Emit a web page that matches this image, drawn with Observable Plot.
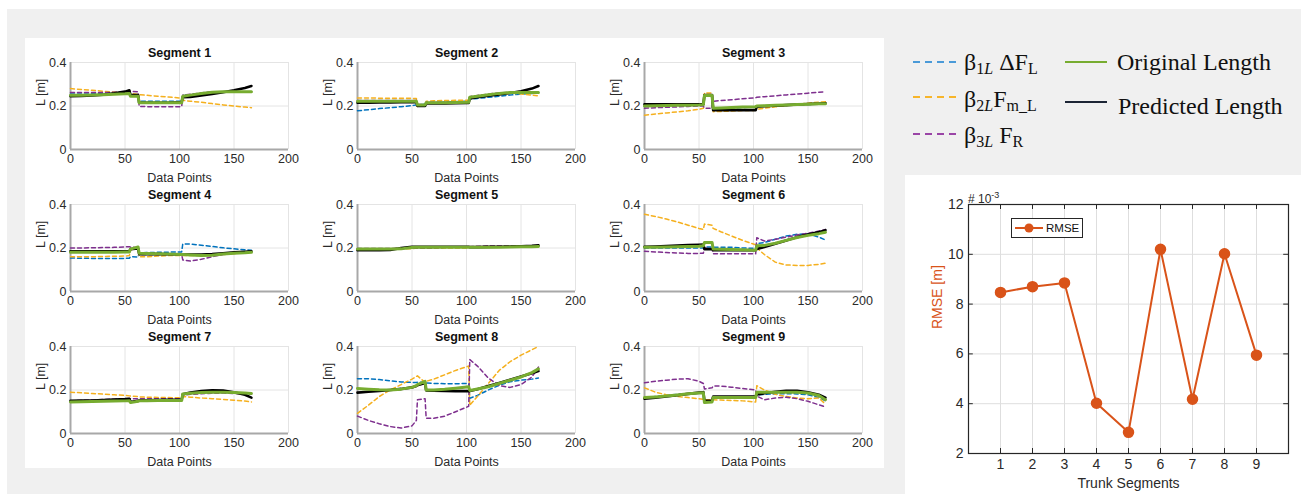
<!DOCTYPE html>
<html><head><meta charset="utf-8">
<script src="https://cdn.jsdelivr.net/npm/d3@7"></script>
<script src="https://cdn.jsdelivr.net/npm/@observablehq/plot@0.6"></script>
<style>
html,body{margin:0;padding:0;background:#fff;}
#root{position:relative;width:1301px;height:494px;overflow:hidden;font-family:"Liberation Sans",Arial,sans-serif;}
.abs{position:absolute;}
.leg{position:absolute;font-family:"Liberation Serif","Times New Roman",serif;font-size:24px;color:#111;white-space:nowrap;height:30px;line-height:30px;}
.leg sub{font-size:16px;vertical-align:-4px;line-height:0;}
.leg i{font-style:italic;}
svg{overflow:visible;}
</style></head><body><div id="root"></div>
<script>
// ---------- data ----------
const xPoints = [0,10,20,30,40,50,54,55,62,63,70,80,90,102,103,110,120,130,140,150,160,166];
const segmentTitles = ["Segment 1","Segment 2","Segment 3","Segment 4","Segment 5","Segment 6","Segment 7","Segment 8","Segment 9"];
const xTicks = [0,50,100,150,200];
const yTicks = [0,0.2,0.4];

const original = [
 [0.25,0.25,0.251,0.252,0.254,0.256,0.258,0.245,0.245,0.215,0.215,0.215,0.215,0.215,0.245,0.25,0.257,0.263,0.265,0.265,0.265,0.265],
 [0.222,0.222,0.222,0.222,0.222,0.222,0.222,0.205,0.205,0.215,0.215,0.215,0.216,0.217,0.24,0.245,0.252,0.258,0.262,0.262,0.262,0.262],
 [0.2,0.201,0.202,0.203,0.204,0.205,0.206,0.248,0.248,0.19,0.191,0.193,0.195,0.197,0.2,0.201,0.203,0.205,0.207,0.208,0.21,0.21],
 [0.181,0.181,0.181,0.181,0.181,0.182,0.182,0.195,0.205,0.176,0.175,0.174,0.172,0.17,0.17,0.168,0.165,0.167,0.172,0.176,0.178,0.18],
 [0.195,0.195,0.195,0.195,0.196,0.202,0.203,0.203,0.203,0.203,0.204,0.204,0.204,0.204,0.203,0.203,0.204,0.204,0.205,0.206,0.206,0.207],
 [0.203,0.204,0.205,0.206,0.207,0.208,0.21,0.225,0.225,0.195,0.194,0.193,0.192,0.19,0.21,0.212,0.222,0.235,0.248,0.258,0.266,0.272],
 [0.145,0.146,0.147,0.148,0.149,0.15,0.151,0.142,0.148,0.15,0.151,0.152,0.152,0.152,0.182,0.185,0.188,0.19,0.19,0.188,0.186,0.184],
 [0.207,0.204,0.201,0.2,0.204,0.212,0.22,0.225,0.24,0.2,0.2,0.203,0.208,0.215,0.198,0.205,0.215,0.23,0.245,0.26,0.28,0.297],
 [0.165,0.168,0.172,0.177,0.183,0.186,0.187,0.142,0.145,0.165,0.166,0.166,0.166,0.166,0.19,0.19,0.19,0.19,0.19,0.186,0.175,0.155]
];
const predicted = [
 [0.245,0.246,0.248,0.252,0.258,0.266,0.272,0.25,0.25,0.215,0.215,0.215,0.215,0.218,0.24,0.242,0.248,0.255,0.263,0.272,0.283,0.292],
 [0.215,0.215,0.216,0.216,0.217,0.218,0.218,0.2,0.2,0.212,0.212,0.212,0.213,0.214,0.235,0.24,0.247,0.253,0.26,0.268,0.28,0.292],
 [0.208,0.208,0.208,0.208,0.208,0.208,0.208,0.25,0.25,0.181,0.181,0.181,0.181,0.181,0.197,0.199,0.201,0.204,0.207,0.209,0.211,0.213],
 [0.185,0.185,0.185,0.185,0.185,0.185,0.185,0.195,0.198,0.172,0.172,0.172,0.171,0.17,0.17,0.17,0.17,0.172,0.176,0.18,0.183,0.185],
 [0.19,0.19,0.19,0.191,0.2,0.205,0.205,0.205,0.205,0.205,0.205,0.206,0.206,0.206,0.204,0.204,0.205,0.206,0.207,0.208,0.21,0.212],
 [0.205,0.207,0.209,0.211,0.213,0.215,0.216,0.195,0.195,0.19,0.19,0.19,0.19,0.19,0.195,0.205,0.22,0.235,0.25,0.262,0.273,0.282],
 [0.15,0.151,0.152,0.154,0.156,0.158,0.16,0.145,0.15,0.152,0.153,0.154,0.155,0.155,0.18,0.188,0.195,0.199,0.197,0.19,0.178,0.165],
 [0.188,0.192,0.196,0.2,0.205,0.212,0.218,0.222,0.232,0.198,0.197,0.196,0.195,0.195,0.195,0.203,0.218,0.232,0.247,0.262,0.277,0.287],
 [0.16,0.165,0.17,0.176,0.182,0.188,0.19,0.15,0.152,0.17,0.17,0.17,0.17,0.17,0.18,0.185,0.192,0.196,0.196,0.19,0.178,0.165]
];
const beta1 = [
 [0.255,0.255,0.256,0.256,0.257,0.258,0.258,0.25,0.25,0.222,0.222,0.222,0.222,0.222,0.25,0.252,0.258,0.262,0.264,0.265,0.265,0.265],
 [0.178,0.183,0.188,0.192,0.197,0.202,0.205,0.205,0.208,0.215,0.216,0.218,0.22,0.222,0.232,0.235,0.24,0.245,0.25,0.255,0.258,0.26],
 [0.198,0.199,0.2,0.201,0.202,0.203,0.204,0.245,0.245,0.188,0.189,0.191,0.193,0.195,0.198,0.199,0.201,0.203,0.205,0.207,0.208,0.209],
 [0.154,0.153,0.152,0.152,0.152,0.152,0.153,0.16,0.158,0.178,0.179,0.18,0.181,0.182,0.219,0.218,0.213,0.207,0.201,0.196,0.192,0.19],
 [0.196,0.196,0.196,0.196,0.197,0.2,0.201,0.201,0.201,0.201,0.202,0.202,0.202,0.202,0.203,0.204,0.205,0.205,0.206,0.207,0.207,0.208],
 [0.2,0.2,0.2,0.2,0.2,0.2,0.2,0.205,0.205,0.204,0.204,0.204,0.2,0.198,0.22,0.225,0.24,0.255,0.263,0.265,0.25,0.237],
 [0.147,0.148,0.149,0.15,0.151,0.152,0.153,0.145,0.149,0.151,0.152,0.153,0.153,0.153,0.18,0.184,0.187,0.189,0.189,0.187,0.185,0.183],
 [0.252,0.252,0.248,0.242,0.237,0.235,0.235,0.236,0.235,0.232,0.23,0.229,0.229,0.23,0.162,0.175,0.2,0.222,0.238,0.245,0.25,0.255],
 [0.165,0.17,0.175,0.18,0.183,0.185,0.186,0.15,0.15,0.168,0.168,0.168,0.168,0.168,0.178,0.18,0.182,0.183,0.182,0.178,0.165,0.15]
];
const beta2 = [
 [0.28,0.276,0.272,0.268,0.264,0.26,0.258,0.257,0.254,0.252,0.249,0.245,0.241,0.236,0.226,0.222,0.217,0.211,0.205,0.2,0.195,0.192],
 [0.237,0.237,0.236,0.236,0.236,0.235,0.235,0.198,0.2,0.222,0.224,0.225,0.226,0.227,0.24,0.245,0.252,0.258,0.26,0.255,0.25,0.247],
 [0.158,0.163,0.168,0.173,0.178,0.185,0.19,0.26,0.26,0.174,0.175,0.177,0.179,0.18,0.185,0.19,0.196,0.202,0.208,0.213,0.218,0.22],
 [0.16,0.16,0.16,0.161,0.162,0.163,0.165,0.19,0.205,0.16,0.16,0.163,0.165,0.166,0.165,0.165,0.165,0.167,0.17,0.174,0.178,0.18],
 [0.196,0.196,0.196,0.196,0.196,0.197,0.2,0.2,0.2,0.2,0.2,0.2,0.2,0.2,0.204,0.205,0.205,0.206,0.206,0.207,0.208,0.208],
 [0.355,0.345,0.333,0.32,0.305,0.29,0.285,0.31,0.305,0.29,0.275,0.255,0.235,0.215,0.2,0.17,0.135,0.122,0.12,0.12,0.125,0.13],
 [0.19,0.187,0.184,0.181,0.178,0.175,0.173,0.172,0.17,0.168,0.167,0.166,0.165,0.164,0.17,0.167,0.163,0.16,0.157,0.153,0.149,0.145],
 [0.093,0.13,0.17,0.2,0.225,0.25,0.262,0.265,0.235,0.24,0.25,0.27,0.29,0.31,0.13,0.17,0.23,0.29,0.33,0.36,0.385,0.4],
 [0.21,0.19,0.178,0.17,0.165,0.16,0.157,0.155,0.155,0.155,0.154,0.152,0.15,0.145,0.22,0.2,0.18,0.17,0.163,0.16,0.163,0.135]
];
const beta3 = [
 [0.262,0.262,0.262,0.262,0.263,0.264,0.265,0.268,0.265,0.198,0.197,0.197,0.197,0.197,0.25,0.254,0.26,0.266,0.266,0.265,0.265,0.265],
 [0.225,0.225,0.225,0.225,0.225,0.225,0.225,0.207,0.207,0.217,0.217,0.217,0.218,0.219,0.243,0.248,0.255,0.26,0.263,0.263,0.263,0.263],
 [0.19,0.192,0.194,0.196,0.198,0.2,0.2,0.19,0.19,0.222,0.225,0.229,0.233,0.238,0.24,0.243,0.247,0.251,0.255,0.259,0.263,0.266],
 [0.2,0.2,0.201,0.202,0.203,0.205,0.206,0.205,0.2,0.17,0.17,0.17,0.17,0.17,0.145,0.14,0.148,0.16,0.17,0.176,0.18,0.182],
 [0.198,0.198,0.198,0.198,0.199,0.2,0.201,0.201,0.201,0.201,0.202,0.203,0.203,0.204,0.206,0.208,0.21,0.21,0.21,0.21,0.21,0.21],
 [0.185,0.182,0.179,0.177,0.175,0.175,0.176,0.2,0.195,0.174,0.173,0.173,0.173,0.173,0.247,0.232,0.24,0.25,0.26,0.268,0.278,0.285],
 [0.15,0.152,0.154,0.156,0.158,0.16,0.161,0.16,0.16,0.16,0.16,0.16,0.16,0.16,0.176,0.18,0.183,0.185,0.186,0.184,0.182,0.18],
 [0.08,0.06,0.045,0.032,0.025,0.035,0.06,0.155,0.16,0.07,0.07,0.08,0.1,0.125,0.34,0.31,0.255,0.22,0.212,0.225,0.26,0.305],
 [0.233,0.24,0.245,0.25,0.252,0.24,0.23,0.205,0.21,0.218,0.218,0.213,0.207,0.2,0.172,0.155,0.163,0.167,0.16,0.148,0.132,0.122]
];

const trunkSegments = [1,2,3,4,5,6,7,8,9];
const rmse = [8.47,8.7,8.85,4.02,2.85,10.2,4.18,10.02,5.95]; // x 10^-3
const rmseYTicks = [2,4,6,8,10,12];

// ---------- styling ----------
const C = {blue:"#0072BD", orange:"#F5B01E", purple:"#7E2F8E", green:"#77AC30", black:"#000000", rmse:"#D95319"};
const FONT = "'Liberation Sans', Arial, sans-serif";
const root = document.getElementById("root");

function box(left, top, w, h, bg) {
  const d = document.createElement("div");
  d.className = "abs";
  Object.assign(d.style, {left:left+"px", top:top+"px", width:w+"px", height:h+"px", background:bg});
  root.appendChild(d);
  return d;
}
box(7, 9, 1294, 485, "#f0f0f0");
box(25, 38, 859, 430, "#ffffff");
box(905, 175, 396, 319, "#ffffff");

function place(el, left, top) {
  const w = document.createElement("div");
  w.className = "abs";
  w.style.left = left + "px"; w.style.top = top + "px";
  w.appendChild(el);
  root.appendChild(w);
}

function subplot(s) {
  const rows = xPoints.map((x, i) => ({x, orig: original[s][i], pred: predicted[s][i], b1: beta1[s][i], b2: beta2[s][i], b3: beta3[s][i]}));
  const dash = {strokeWidth: 1.5, strokeDasharray: "4,3"};
  return Plot.plot({
    width: 290, height: 160,
    marginLeft: 45, marginRight: 27, marginTop: 24, marginBottom: 49,
    x: {domain: [0, 200]},
    y: {domain: [0, 0.4]},
    style: {background: "transparent", overflow: "visible", fontFamily: FONT, fontSize: "12.5px", color: "#2a2a2a"},
    marks: [
      Plot.ruleX(xTicks, {stroke: "#e4e4e4", strokeWidth: 1}),
      Plot.ruleY(yTicks, {stroke: "#e4e4e4", strokeWidth: 1}),
      Plot.ruleX([0], {stroke: "#a8a8a8", strokeWidth: 2}),
      Plot.ruleY([0], {stroke: "#a8a8a8", strokeWidth: 2}),
      Plot.line(rows, {x: "x", y: "b1", stroke: C.blue, ...dash}),
      Plot.line(rows, {x: "x", y: "b2", stroke: C.orange, ...dash}),
      Plot.line(rows, {x: "x", y: "b3", stroke: C.purple, ...dash}),
      Plot.line(rows, {x: "x", y: "pred", stroke: C.black, strokeWidth: 2.6}),
      Plot.line(rows, {x: "x", y: "orig", stroke: C.green, strokeWidth: 3}),
      Plot.axisX({ticks: xTicks, tickSize: 0, tickPadding: 5, tickFormat: d => String(d), label: null, fontSize: 12.5}),
      Plot.axisY({ticks: yTicks, tickSize: 0, tickPadding: 4, tickFormat: d => String(d), label: null, fontSize: 12.5}),
      Plot.text([segmentTitles[s]], {text: d => d, frameAnchor: "top", dy: -10, lineAnchor: "middle", fontWeight: "bold", fontSize: 12.5, fill: "#111"}),
      Plot.text(["Data Points"], {text: d => d, frameAnchor: "bottom", dy: 28, lineAnchor: "middle", fontSize: 12.5, fill: "#2a2a2a"}),
      Plot.text(["L [m]"], {text: d => d, frameAnchor: "left", dx: -30, rotate: -90, lineAnchor: "middle", fontSize: 12.5, fill: "#2a2a2a"})
    ]
  });
}

const colLeft = [25, 312, 599];
const rowTop = [38, 180, 322];
for (let s = 0; s < 9; s++) {
  place(subplot(s), colLeft[s % 3], rowTop[Math.floor(s / 3)]);
}

// ---------- RMSE chart ----------
const rmseRows = trunkSegments.map((k, i) => ({seg: k, v: rmse[i]}));
const rmsePlot = Plot.plot({
  width: 396, height: 319,
  marginLeft: 63, marginRight: 13, marginTop: 29, marginBottom: 41,
  x: {domain: [0, 10]},
  y: {domain: [2, 12]},
  style: {background: "transparent", overflow: "visible", fontFamily: FONT, fontSize: "14px", color: "#2a2a2a"},
  marks: [
    Plot.ruleX(trunkSegments, {stroke: "#dedede", strokeWidth: 1}),
    Plot.ruleY(rmseYTicks, {stroke: "#dedede", strokeWidth: 1}),
    Plot.ruleX(trunkSegments, {y1: 2, y2: 2.2, stroke: "#262626"}),
    Plot.ruleX(trunkSegments, {y1: 11.8, y2: 12, stroke: "#262626"}),
    Plot.ruleY(rmseYTicks, {x1: 0, x2: 0.15, stroke: "#262626"}),
    Plot.ruleY(rmseYTicks, {x1: 9.85, x2: 10, stroke: "#262626"}),
    Plot.frame({stroke: "#262626", strokeWidth: 1.2}),
    Plot.line(rmseRows, {x: "seg", y: "v", stroke: C.rmse, strokeWidth: 2}),
    Plot.dot(rmseRows, {x: "seg", y: "v", r: 5, fill: C.rmse, stroke: C.rmse}),
    Plot.axisX({ticks: trunkSegments, tickSize: 0, tickPadding: 6, label: null, fontSize: 14}),
    Plot.axisY({ticks: rmseYTicks, tickSize: 0, tickPadding: 5, label: null, fontSize: 14}),
    Plot.text(["Trunk Segments"], {text: d => d, frameAnchor: "bottom", dy: 30, lineAnchor: "middle", fontSize: 14, fill: "#2a2a2a"}),
    Plot.text(["RMSE [m]"], {text: d => d, frameAnchor: "left", dx: -31, rotate: -90, lineAnchor: "middle", fontSize: 14, fill: C.rmse})
  ]
});
place(rmsePlot, 905, 175);

// exponent label
const ex = document.createElement("div");
ex.className = "abs";
Object.assign(ex.style, {left: "968px", top: "190px", fontSize: "12px", color: "#2a2a2a", fontFamily: FONT, whiteSpace: "nowrap"});
ex.innerHTML = "# 10<sup style='font-size:9px'>-3</sup>";
root.appendChild(ex);

// RMSE legend box
const lb = document.createElement("div");
lb.className = "abs";
Object.assign(lb.style, {left: "1011px", top: "218px", width: "70px", height: "18px", border: "1px solid #262626", background: "#fff", fontFamily: FONT, fontSize: "11.5px", color: "#111"});
lb.innerHTML = `<svg width="34" height="18" style="position:absolute;left:0;top:0">
<line x1="3" y1="9" x2="31" y2="9" stroke="${C.rmse}" stroke-width="2"/>
<circle cx="17" cy="9" r="4.5" fill="${C.rmse}"/></svg>
<span style="position:absolute;left:34px;top:0;line-height:18px">RMSE</span>`;
root.appendChild(lb);

// ---------- main legend ----------
function legLine(x1, x2, y, color, dashed, width) {
  const s = document.createElementNS("http://www.w3.org/2000/svg", "svg");
  s.setAttribute("width", x2 - x1 + 4); s.setAttribute("height", 6);
  s.style.position = "absolute"; s.style.left = (x1 - 2) + "px"; s.style.top = (y - 3) + "px";
  s.innerHTML = `<line x1="2" y1="3" x2="${x2 - x1 + 2}" y2="3" stroke="${color}" stroke-width="${width}" ${dashed ? 'stroke-dasharray="7,5"' : ''}/>`;
  root.appendChild(s);
}
function legText(html, left, cy) {
  const d = document.createElement("div");
  d.className = "leg";
  d.style.left = left + "px"; d.style.top = (cy - 15) + "px";
  d.innerHTML = html;
  root.appendChild(d);
}
legLine(913, 957, 62, "#4a9ad8", true, 2);
legLine(913, 957, 97, "#f7b52a", true, 2);
legLine(913, 957, 134, "#9a45a6", true, 2);
legLine(1065, 1107, 62, C.green, false, 2);
legLine(1065, 1107, 102, "#1c2535", false, 2);
legText("β<sub>1<i>L</i></sub> ΔF<sub>L</sub>", 964, 62);
legText("β<sub>2<i>L</i></sub>F<sub>m_L</sub>", 964, 99);
legText("β<sub>3<i>L</i></sub> F<sub>R</sub>", 964, 135);
legText("Original Length", 1117, 62);
legText("Predicted Length", 1118, 106);
</script></body></html>
